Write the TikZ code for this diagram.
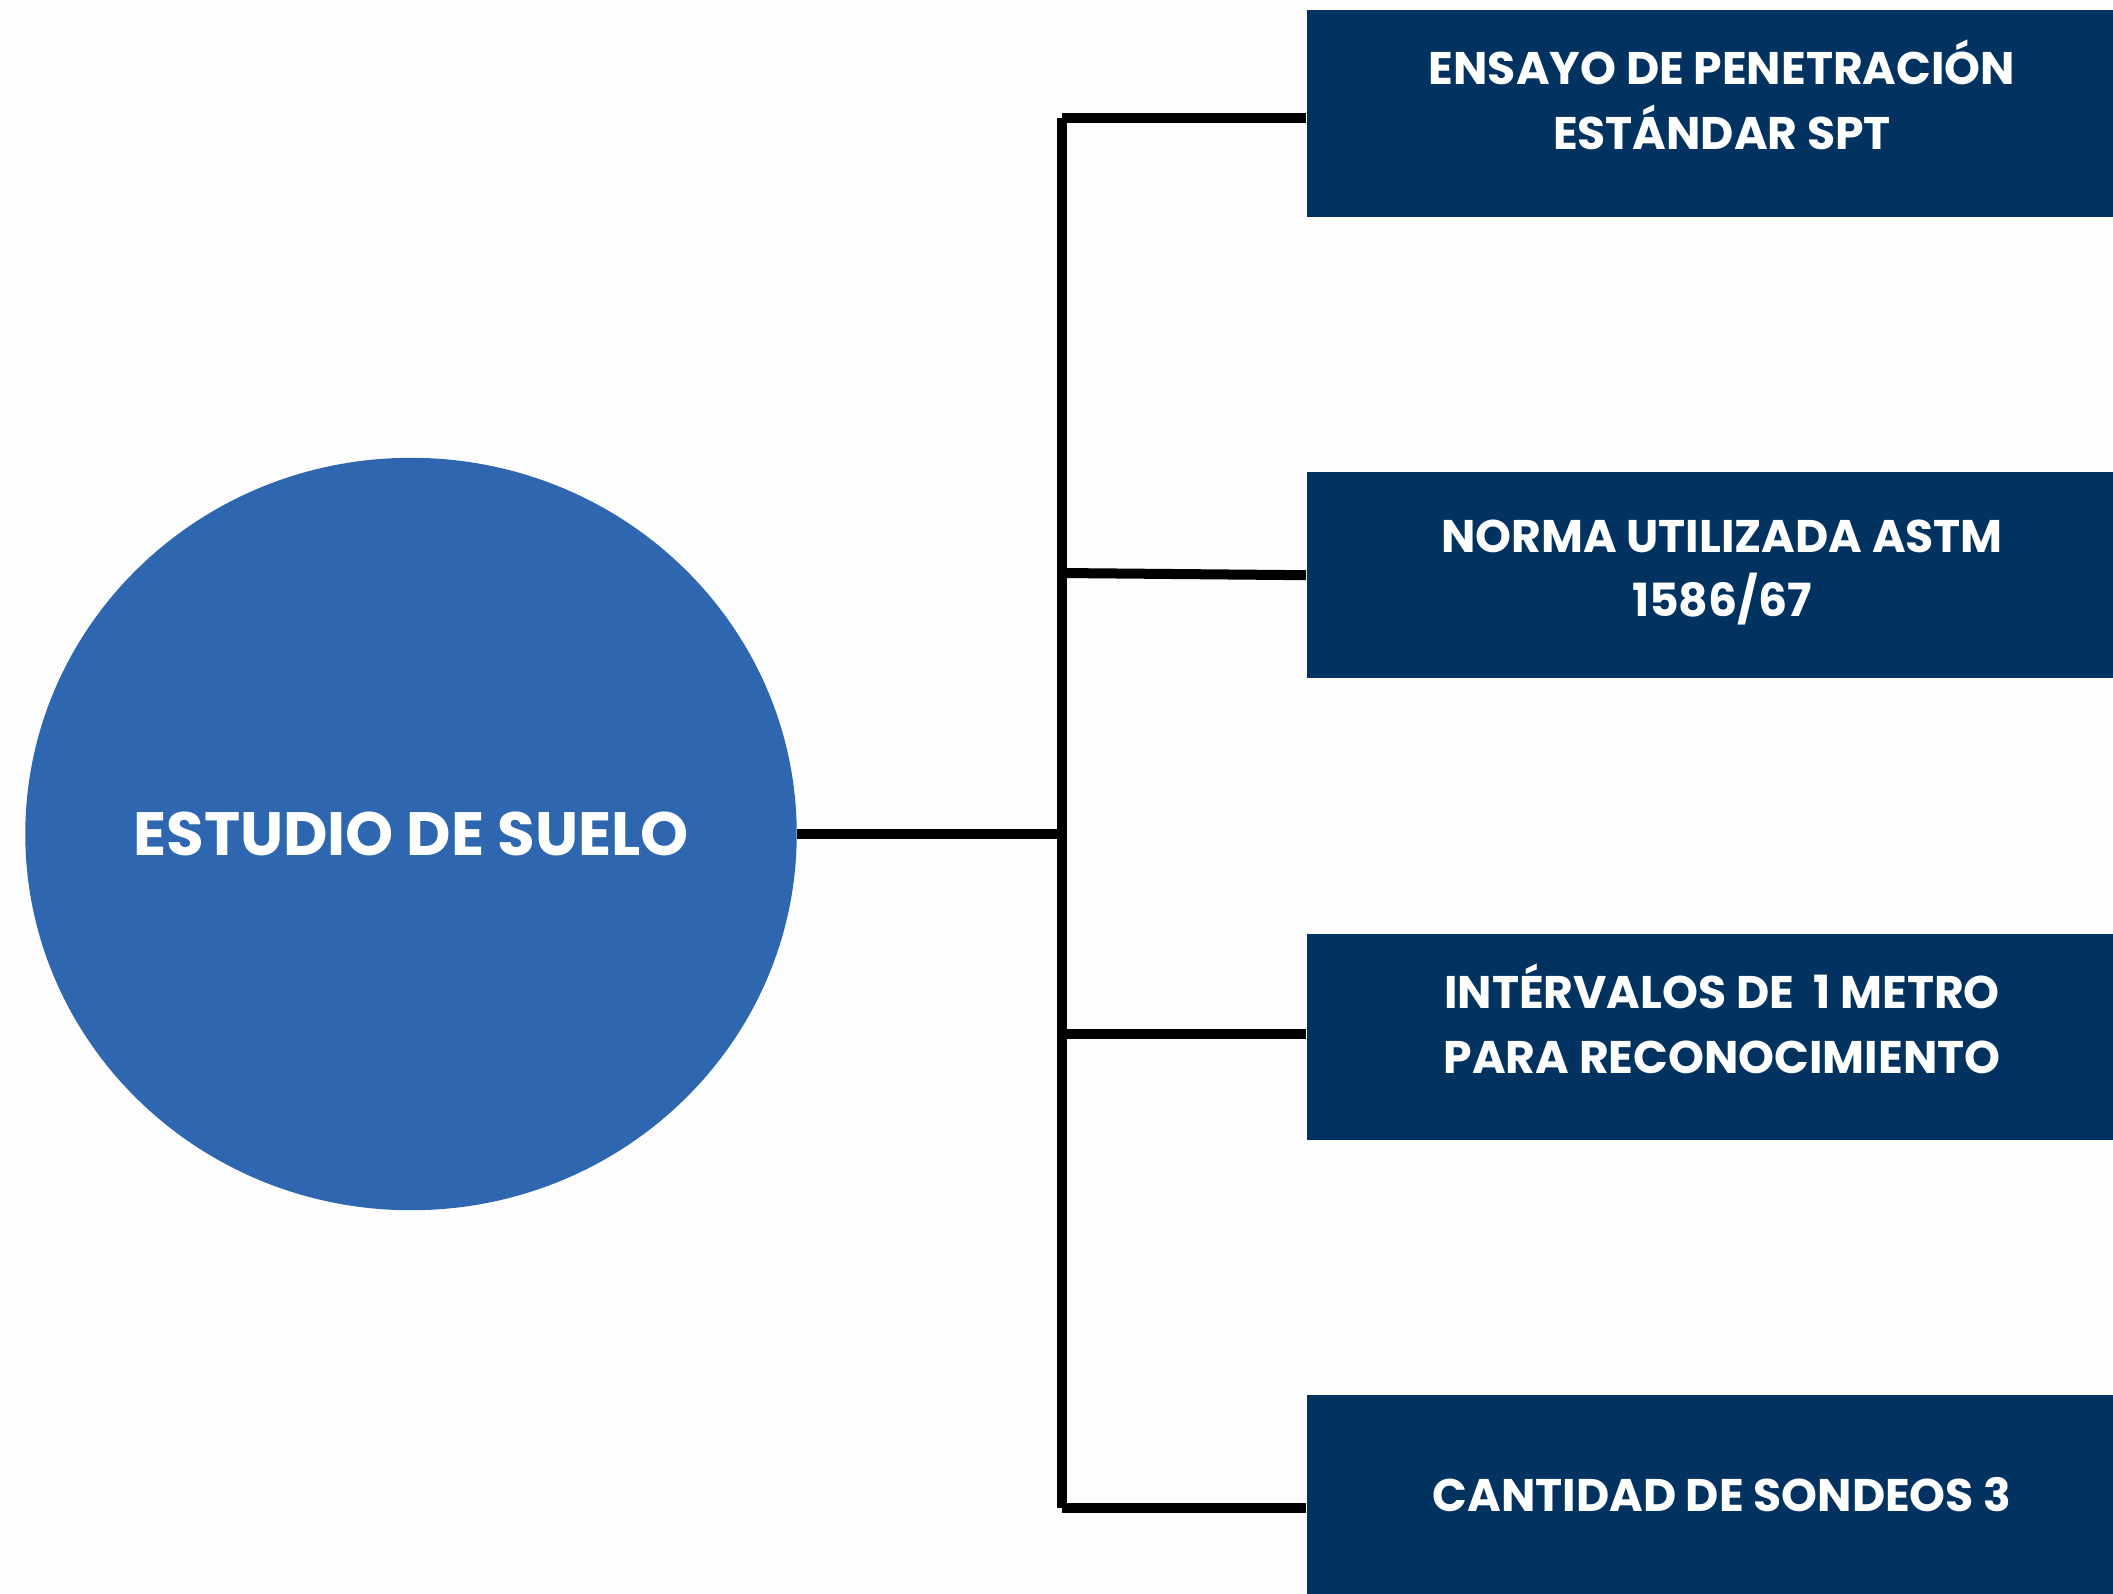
\documentclass[tikz,border=0pt]{standalone}
\usepackage{fontspec}
\setmainfont{Poppins}
\usepackage{xcolor}
\usetikzlibrary{shapes.geometric}
\usetikzlibrary{positioning}
\definecolor{suelo}{HTML}{2E67AF}
\definecolor{marino}{HTML}{02325F}
\definecolor{fondo}{HTML}{FDFDFD}
\tikzset{
  tema/.style={ellipse, fill=suelo, text=white, inner sep=0pt,
    minimum width=7.71cm, minimum height=7.52cm,
    font=\fontsize{17.4}{21}\selectfont\bfseries},
  caja/.style={rectangle, fill=marino, text=white, align=center,
    minimum width=8.3cm, minimum height=2.06cm, text depth=0.08cm,
    font=\fontsize{13}{18.4}\selectfont\bfseries},
  doble/.style={caja, text depth=0.25cm},
  rama/.style={line width=1mm, black}
}

\begin{document}
\begin{tikzpicture}[x=0.01cm, y=-0.01cm, node distance=2.54cm]
    \useasboundingbox[fill=fondo] (0,0) rectangle (2113,1593);
    \clip (0,0) rectangle (2113,1593);

    \node[tema] (suelo) at (411,834) {\makebox[0pt]{ESTUDIO DE SUELO}};
    \node[doble] (spt) at (1722,113.5) {ENSAYO DE PENETRACI\smash{Ó}N\\ESTÁNDAR SPT};
    \node[caja,text depth=0.14cm,below = of spt] (norma) {NORMA UTILIZADA ASTM\\1586/67};
    \node[doble,below = of norma] (interv) {INT\smash{É}RVALOS DE \ 1 METRO\\PARA RECONOCIMIENTO};
    \node[caja,below = of interv] (sondeos) {CANTIDAD DE SONDEOS 3};

    \coordinate (t1) at (1062,118);
    \coordinate (t2) at (1062,573);
    \coordinate (t3) at (1062,1034);
    \coordinate (t4) at (1062,1508);
    \coordinate (tc) at (1062,834);

    \draw[rama] (t1) -- (t4);
    \draw[rama] (suelo.east |- tc) -- (tc);
    \draw[rama] (t1) -- (t1 -| spt.west);
    \draw[rama] (t2) -- (norma.west);
    \draw[rama] (t3) -- (t3 -| interv.west);
    \draw[rama] (t4) -- (t4 -| sondeos.west);
  \end{tikzpicture}
\end{document}
